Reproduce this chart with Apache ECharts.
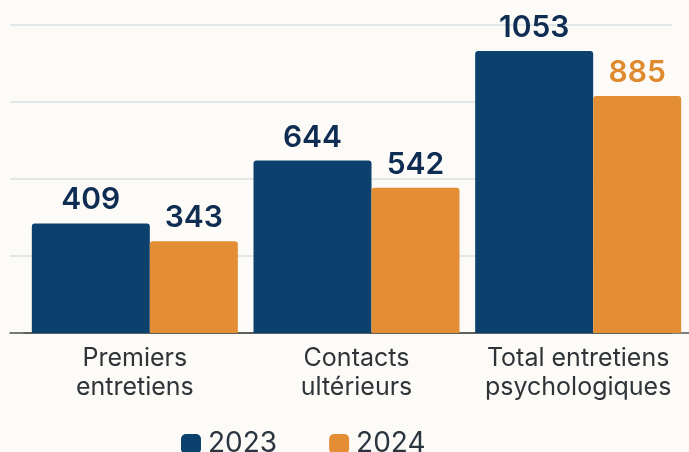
<!DOCTYPE html>
<html>
<head>
<meta charset="utf-8">
<script src="https://cdn.jsdelivr.net/npm/echarts@6/dist/echarts.min.js"></script>
<style>
  html, body { margin: 0; padding: 0; background: #fcfbf7; }
  #chart { width: 689px; height: 452px; }
</style>
</head>
<body>
<div id="chart"></div>
<script>
/** Entretiens psychologiques 2023 / 2024 */
var categories = ['Premiers\nentretiens', 'Contacts\nultérieurs', 'Total entretiens\npsychologiques'];
var values2023 = [409, 644, 1053];
var values2024 = [343, 542, 885];
var label2024Colors = ['#0f2d52', '#0f2d52', '#e08a30'];

var chart = echarts.init(document.getElementById('chart'));
var option = {
  backgroundColor: '#fcfbf7',
  textStyle: { fontFamily: 'Inter' },
  legend: {
    left: 176,
    top: 425,
    itemWidth: 20,
    itemHeight: 20,
    itemGap: 52,
    icon: 'roundRect',
    textStyle: { fontSize: 28, color: '#2b3540', padding: [0, 0, 0, 2] },
    data: ['2023', '2024']
  },
  grid: [
    // grille de fond (lignes horizontales)
    { left: 10, right: 17, top: 25, bottom: 119 },
    // grille des barres
    { left: 24, right: -3, top: 25, bottom: 119 }
  ],
  xAxis: [{
    gridIndex: 0,
    type: 'category',
    data: categories,
    axisLabel: { show: false },
    axisTick: { show: false },
    axisLine: { lineStyle: { color: '#555', width: 1.5 } }
  }, {
    gridIndex: 1,
    type: 'category',
    data: categories,
    axisTick: { show: false },
    axisLine: { lineStyle: { color: '#555', width: 1.5 } },
    axisLabel: {
      interval: 0,
      fontSize: 25,
      color: '#2f3438',
      lineHeight: 29,
      margin: 11
    }
  }],
  yAxis: [{
    gridIndex: 0,
    type: 'value',
    min: 0,
    max: 1150,
    interval: 287.5,
    axisLabel: { show: false },
    axisLine: { show: false },
    axisTick: { show: false },
    splitLine: { lineStyle: { color: '#d9e2e6', width: 1.5 } }
  }, {
    gridIndex: 1,
    type: 'value',
    min: 0,
    max: 1150,
    interval: 287.5,
    axisLabel: { show: false },
    axisLine: { show: false },
    axisTick: { show: false },
    splitLine: { show: false }
  }],
  series: [{
    name: '2023',
    type: 'bar',
    xAxisIndex: 1,
    yAxisIndex: 1,
    barWidth: 118,
    barGap: '0%',
    itemStyle: { color: '#0c416d', borderRadius: [3, 3, 0, 0] },
    label: {
      show: true,
      position: 'top',
      distance: 8,
      fontSize: 30,
      fontWeight: 600,
      color: '#0f2d52'
    },
    data: values2023
  }, {
    name: '2024',
    type: 'bar',
    xAxisIndex: 1,
    yAxisIndex: 1,
    barWidth: 88,
    itemStyle: { color: '#e38d35', borderRadius: [3, 3, 0, 0] },
    label: {
      show: true,
      position: 'top',
      distance: 8,
      fontSize: 30,
      fontWeight: 600,
      color: '#0f2d52'
    },
    data: values2024.map(function (v, i) {
      return { value: v, label: { color: label2024Colors[i] } };
    })
  }]
};

chart.setOption(option);
</script>
</body>
</html>
